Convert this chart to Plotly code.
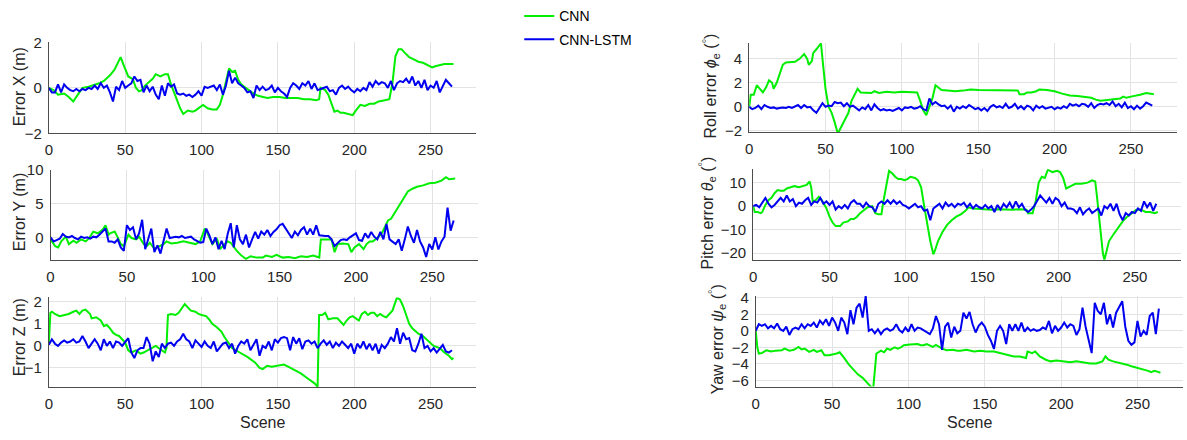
import plotly.graph_objects as go

# ---------------- data ----------------
SCENE_STEP = 2  # CNN-LSTM values are read every 2 scenes (0..264)

# CNN-LSTM (blue) errors
LSTM_X = [0.0,-0.2,-0.2,0.15,-0.2,0.15,0.0,-0.1,-0.15,-0.05,
          -0.15,-0.05,-0.1,0.0,-0.05,0.1,-0.05,0.2,0.0,0.1,
          -0.2,-0.6,0.05,-0.1,0.3,0.0,0.1,0.2,0.5,0.3,
          0.35,-0.2,0.1,-0.15,0.05,-0.3,-0.5,0.1,-0.35,0.2,
          0.05,0.15,-0.25,-0.3,-0.25,-0.35,-0.3,-0.4,-0.3,-0.15,
          -0.35,0.05,0.0,0.05,0.1,-0.1,0.15,-0.3,0.1,0.75,
          0.2,0.45,0.2,0.1,0.0,-0.2,-0.15,-0.45,0.1,-0.1,
          0.05,-0.1,-0.05,0.1,-0.2,0.0,-0.15,-0.25,-0.4,0.0,
          0.2,0.1,-0.05,0.2,0.1,0.3,-0.05,0.2,-0.1,-0.05,
          0.0,0.05,-0.15,-0.1,-0.3,0.0,0.1,-0.05,0.05,-0.1,
          -0.2,-0.05,-0.15,0.0,-0.1,0.25,0.05,0.3,0.15,0.25,
          0.2,0.0,0.3,-0.1,0.2,0.3,0.25,0.4,0.2,0.5,
          0.1,0.3,0.0,0.35,-0.1,0.1,0.0,0.3,-0.2,0.1,
          0.35,0.2,0.05]
LSTM_Y = [0.0,-0.6,-0.4,-0.2,0.5,0.1,0.0,0.2,-0.1,-0.3,
          0.1,-0.1,0.0,-0.2,0.1,0.0,0.4,0.85,1.3,-0.6,
          -0.6,-0.8,-0.3,-1.5,-2.0,1.8,1.1,1.5,-0.3,0.6,
          2.6,-1.75,-0.2,1.3,-2.2,-1.2,-2.4,-0.5,1.3,-0.1,
          0.0,0.1,0.0,0.2,-0.1,0.0,0.1,-0.3,-0.5,-0.8,
          -0.7,1.3,0.3,-1.0,0.0,-1.75,-0.5,-1.75,0.5,2.1,
          -1.5,1.8,-0.3,-1.0,0.4,-1.5,-0.3,0.8,-0.2,0.85,
          0.4,1.1,0.2,0.8,1.2,1.8,2.0,1.3,0.4,-0.1,
          0.85,0.3,1.1,1.5,0.4,1.3,0.4,1.8,0.3,0.2,
          0.2,0.2,-0.3,-1.3,-0.9,-0.4,-0.3,-0.4,0.0,0.3,
          0.6,-0.4,-0.5,0.6,-0.1,0.8,0.1,-0.3,0.8,-0.3,
          2.0,-0.3,-0.6,-1.0,-0.3,-2.0,-0.3,1.6,0.2,-0.8,
          1.1,-0.6,-1.5,-2.9,-1.0,-1.8,0.0,-1.8,-0.6,0.1,
          4.4,1.0,2.5]
LSTM_Z = [0.05,0.3,0.1,0.0,0.15,0.25,0.15,0.2,0.3,0.15,
          0.2,0.45,0.2,-0.1,0.1,0.3,0.1,-0.2,0.3,0.0,
          0.2,-0.1,0.2,0.15,0.0,0.2,0.35,-0.3,-0.55,-0.2,
          -0.1,-0.1,0.4,0.1,-0.7,-0.25,-0.5,0.1,-0.1,0.1,
          0.15,0.0,0.2,0.3,0.55,0.3,0.2,-0.1,0.25,0.1,
          -0.05,0.2,0.0,-0.1,0.2,-0.25,-0.1,0.1,0.15,-0.1,
          0.1,-0.35,0.0,0.2,0.1,0.3,-0.2,0.05,0.3,-0.45,
          0.0,-0.1,0.2,-0.2,0.3,0.15,0.35,0.4,0.35,-0.2,
          0.4,0.1,0.35,-0.15,0.2,0.25,0.1,0.2,-0.1,0.1,
          0.25,0.05,0.2,-0.1,0.15,0.0,0.2,0.05,-0.1,0.1,
          -0.35,0.1,-0.1,0.2,-0.15,0.1,-0.2,0.1,-0.35,0.05,
          -0.1,0.1,0.4,0.2,0.8,0.1,0.6,0.3,0.35,-0.2,
          -0.25,0.1,0.55,-0.1,0.0,-0.25,-0.1,-0.3,-0.1,0.05,
          -0.25,-0.3,-0.2]
LSTM_ROLL = [0.0,-0.2,-0.1,0.1,-0.2,0.15,0.0,-0.1,-0.05,-0.15,
             -0.1,-0.05,-0.1,0.0,-0.1,0.05,0.15,-0.1,0.15,-0.05,
             0.0,-0.3,-0.5,-0.1,0.3,0.0,0.1,0.05,0.4,0.3,
             0.35,0.05,0.3,0.0,0.1,-0.1,-0.3,-0.05,-0.2,0.15,
             -0.3,0.2,-0.1,-0.3,-0.2,-0.3,-0.25,-0.35,-0.2,-0.1,
             -0.3,-0.05,-0.1,0.0,-0.15,-0.1,0.05,-0.2,-0.3,0.7,
             0.2,0.4,0.2,0.05,0.1,-0.15,0.1,-0.4,0.0,-0.15,
             0.05,-0.1,0.15,-0.05,-0.2,-0.1,-0.3,-0.1,-0.35,0.0,
             0.15,-0.05,0.05,-0.1,0.25,-0.1,0.0,0.25,-0.15,0.05,
             -0.2,0.1,0.0,-0.3,0.1,-0.1,0.05,-0.15,-0.05,0.0,
             -0.2,-0.05,-0.15,0.05,-0.1,0.25,0.1,0.2,0.05,0.25,
             0.2,0.0,0.3,-0.1,0.15,0.25,0.2,0.3,0.15,0.45,
             0.05,0.25,-0.05,0.35,-0.1,0.05,-0.2,0.1,-0.15,0.05,
             0.35,0.2,0.1]
LSTM_PITCH = [0.0,0.5,-0.5,1.5,3.5,1.0,-0.5,0.5,2.0,3.5,
              2.0,4.5,2.0,3.0,0.0,1.5,1.0,2.5,3.5,0.5,
              2.0,1.5,3.5,1.0,2.0,0.5,2.0,-1.5,0.0,-1.0,
              0.5,-1.0,1.5,2.5,1.0,1.0,-0.5,1.5,0.0,-0.5,
              -2.5,1.0,2.0,1.0,2.5,1.0,2.5,1.0,2.0,0.5,
              0.0,-1.0,0.0,1.0,-0.5,0.0,-2.0,-1.5,-6.0,-1.0,
              0.0,1.0,-1.0,1.5,0.0,1.0,-0.5,1.0,0.5,1.5,
              -0.5,1.0,-1.0,0.5,-0.5,-1.0,0.5,-1.0,0.0,-2.5,
              0.5,-1.5,1.0,-0.5,1.5,-1.0,2.0,-0.5,1.0,-1.5,
              -2.5,-1.5,0.0,2.0,4.5,3.0,1.5,3.5,1.0,3.5,
              2.5,0.0,1.5,-1.0,-1.0,-1.5,-3.0,-0.5,-3.5,-2.0,
              -1.0,-3.0,-2.0,-1.0,-4.0,0.0,-1.0,1.0,-2.0,1.0,
              -3.5,-6.0,-3.0,-4.0,-2.5,-3.0,-1.0,-2.0,2.0,-0.5,
              1.5,-2.0,1.0]
LSTM_YAW = [0.0,0.8,0.6,0.8,0.3,0.6,0.3,0.9,0.2,0.0,
            0.5,-0.5,0.2,0.4,0.2,0.8,0.3,0.8,0.6,1.0,
            0.4,1.25,0.8,1.4,0.6,1.6,1.0,0.0,1.6,1.0,
            -0.4,2.5,0.8,2.8,3.3,1.6,4.2,0.0,0.2,-0.3,
            0.2,-0.4,0.1,0.3,0.0,0.2,0.8,0.1,-0.2,0.4,
            -0.1,0.8,0.0,0.4,0.3,0.1,-0.2,-0.4,0.3,1.8,
            0.8,-2.3,0.5,1.0,-0.8,0.5,-0.3,0.0,2.2,1.5,
            2.3,0.8,-0.2,0.6,1.0,0.5,-0.5,-1.2,-2.2,0.0,
            0.6,0.0,-1.6,0.8,0.0,0.8,0.0,1.0,-0.1,0.4,
            0.0,0.2,0.0,0.1,0.4,0.2,1.2,-0.3,0.6,0.0,
            0.4,1.0,0.4,0.8,0.6,-0.5,0.2,2.8,0.5,-1.2,
            -2.7,3.4,2.4,2.0,3.4,0.8,2.0,0.4,2.2,2.9,
            3.6,0.5,-1.2,-1.7,-1.4,1.2,-0.7,0.0,-0.5,1.8,
            2.2,-0.4,2.7]

# CNN (green) errors, read at the scenes where the curve changes
CNN_X_SCENE = [0,3,6,10,13,16,19,22,26,29,33,36,40,43,45,47,49,52,55,57,59,61,63,66,68,70,73,76,78,80,
               83,86,88,91,94,96,99,101,104,107,110,112,114,116,118,120,122,124,126,128,131,134,137,140,
               143,147,151,155,159,163,167,171,175,177,178,181,183,185,187,189,191,193,196,199,201,204,
               207,210,213,216,220,223,225,227,229,231,233,236,239,242,245,248,251,253,256,259,262,265]
CNN_X = [0.0,-0.1,-0.3,-0.25,-0.4,-0.6,-0.3,0.0,0.05,0.1,0.2,0.3,0.55,0.8,1.1,1.35,1.0,0.5,0.38,0.0,
         -0.15,-0.1,0.1,0.3,0.4,0.6,0.5,0.6,0.6,0.15,-0.4,-0.9,-1.15,-1.0,-1.05,-1.0,-0.85,-0.75,-0.9,
         -0.95,-0.95,-0.75,-0.3,0.3,0.85,0.7,0.75,0.35,0.15,0.05,-0.1,-0.25,-0.35,-0.4,-0.45,-0.4,-0.4,
         -0.45,-0.45,-0.45,-0.5,-0.5,-0.55,-0.5,0.0,-0.1,-0.3,-0.7,-1.05,-1.0,-1.1,-1.1,-1.15,-1.2,-1.0,
         -0.75,-0.8,-0.7,-0.7,-0.6,-0.55,-0.5,0.2,1.4,1.7,1.7,1.55,1.35,1.25,1.15,1.1,1.0,0.9,0.95,1.0,
         1.05,1.05,1.05]

CNN_Y_SCENE = [0,3,5,7,10,12,15,17,20,23,25,28,31,34,36,38,39,42,44,46,48,51,53,56,58,61,63,65,68,70,
               74,76,79,83,87,91,95,98,101,102,104,106,109,111,114,116,118,122,125,128,131,135,139,141,
               145,148,152,156,160,164,168,172,175,176,177,181,184,186,188,191,195,197,199,202,205,207,
               209,211,214,217,219,221,223,226,230,234,237,240,244,248,252,256,259,261,265]
CNN_Y = [-0.3,-1.3,-1.5,-0.6,0.1,-1.0,-0.5,-0.8,-0.3,-0.6,-0.2,0.85,0.6,1.1,1.8,0.4,0.6,0.85,0.0,
         -1.0,-1.3,0.4,-0.1,-0.3,0.1,-1.0,-1.3,-0.8,-1.7,-1.5,-1.0,-0.6,-0.9,-0.8,-0.6,-0.8,-1.0,-0.6,
         1.3,1.0,0.0,-1.0,-0.2,-1.75,-1.0,-0.6,-0.8,-2.0,-2.7,-3.2,-2.8,-3.0,-3.0,-2.7,-2.9,-2.6,-3.0,
         -2.9,-3.1,-2.8,-2.9,-2.7,-2.9,-3.0,-0.3,-0.3,-0.3,-2.2,-1.0,-0.9,-1.0,-2.2,-1.5,-1.0,-1.75,
         -1.0,-0.6,-0.6,-0.1,0.6,1.6,2.5,2.75,3.9,5.4,6.8,7.2,7.5,7.7,8.0,8.1,8.4,8.9,8.6,8.7]

CNN_Z_SCENE = [0,1,2,4,7,10,13,16,18,20,22,24,27,28,31,34,36,38,40,42,44,46,48,50,52,54,57,60,62,65,
               68,70,73,76,77,78,80,83,85,87,89,91,93,96,98,100,103,105,107,110,113,115,117,120,125,130,
               135,138,140,143,146,150,154,157,160,165,170,174,176,177,179,181,183,186,189,191,193,195,
               197,199,201,203,205,207,209,211,213,215,217,219,221,223,225,227,228,230,232,234,236,238,
               240,242,245,248,250,252,256,259,262,264,265]
CNN_Z = [0.1,1.5,1.55,1.45,1.35,1.4,1.45,1.55,1.6,1.45,1.6,1.65,1.45,1.25,1.3,1.15,0.9,0.95,0.8,0.6,
         0.5,0.45,0.3,0.15,-0.2,-0.3,-0.2,-0.35,-0.3,-0.2,-0.1,0.0,-0.15,-0.3,-0.1,1.4,1.45,1.4,1.5,
         1.7,1.9,1.75,1.6,1.55,1.45,1.4,1.35,1.2,1.0,0.85,0.65,0.4,0.2,-0.1,-0.3,-0.5,-0.75,-1.0,-1.05,
         -0.9,-0.95,-0.9,-0.85,-0.95,-1.05,-1.25,-1.5,-1.7,-1.85,1.4,1.4,1.5,1.2,1.25,1.25,1.1,0.95,
         1.15,1.3,1.35,1.25,1.15,1.45,1.55,1.4,1.5,1.5,1.35,1.45,1.35,1.3,1.45,1.6,2.0,2.2,2.1,1.8,1.4,
         1.0,0.8,0.65,0.55,0.45,0.25,0.1,0.0,-0.1,-0.3,-0.45,-0.6,-0.55]

CNN_ROLL_SCENE = [0,1,3,5,7,9,11,13,15,16,18,20,22,24,27,30,33,35,36,38,39,41,42,44,46,47,48,50,52,54,
                  56,58,59,61,63,65,67,69,71,73,76,80,82,85,90,95,100,105,110,112,114,116,118,120,122,
                  124,126,130,135,140,145,150,155,160,165,170,176,177,180,182,185,188,190,195,200,205,
                  210,215,220,224,227,230,233,236,240,243,245,247,250,253,256,260,262,265]
CNN_ROLL = [0.0,1.0,1.0,1.8,1.5,1.2,1.6,2.2,2.0,1.5,2.0,2.8,3.5,3.7,3.7,3.75,4.0,4.3,4.4,4.0,3.5,3.8,
            4.5,4.8,5.2,5.3,4.0,1.5,0.0,-0.5,-1.3,-2.2,-2.0,-1.5,-1.0,-0.5,0.5,1.0,1.5,1.2,1.2,1.15,
            1.3,1.15,1.25,1.2,1.25,1.2,1.2,0.5,-0.3,-0.7,0.0,0.7,1.8,1.6,1.4,1.35,1.3,1.35,1.45,1.4,
            1.4,1.4,1.35,1.35,1.35,1.05,1.05,1.2,1.2,1.3,1.45,1.4,1.3,1.1,0.95,0.9,0.85,0.75,0.6,0.5,
            0.55,0.6,0.7,0.7,0.85,0.75,0.85,0.9,1.0,1.15,1.1,1.05]

CNN_PITCH_SCENE = [0,1,3,5,6,8,10,12,14,16,18,20,22,24,27,30,33,35,37,38,39,41,43,45,48,50,52,54,57,59,
                   62,64,66,68,70,72,75,78,80,82,84,85,87,88,89,91,93,95,97,99,101,103,106,108,110,112,
                   114,116,118,119,121,124,127,130,133,136,139,141,144,148,152,156,160,165,170,175,179,
                   180,183,185,187,189,191,193,196,199,201,203,205,208,211,215,219,222,224,225,227,229,
                   230,231,233,236,239,242,245,248,251,254,257,260,263,265]
CNN_PITCH = [0.0,-2.5,-2.5,-3.0,-2.5,0.5,2.5,3.5,5.5,6.8,6.5,6.5,7.5,8.0,8.5,8.0,8.5,9.0,10.5,8.0,2.0,
             2.5,4.0,2.5,-1.0,-4.5,-7.0,-8.5,-8.5,-7.0,-6.5,-5.5,-5.5,-4.5,-3.0,-2.0,-0.5,0.0,-3.0,-3.5,
             -3.5,1.0,8.0,12.5,15.0,14.0,12.5,11.5,11.5,11.0,11.5,12.5,12.0,11.0,8.0,0.0,-8.0,-15.0,-20.5,
             -19.0,-15.0,-11.0,-8.0,-6.0,-4.5,-3.5,-2.0,-0.5,-1.0,-1.2,-1.5,-1.5,-1.3,-1.5,-1.5,-1.3,-1.5,
             -3.0,-3.0,2.0,10.0,12.5,12.0,15.5,14.5,15.0,14.5,12.0,7.5,8.5,9.5,9.5,10.0,11.0,10.5,5.0,
             -8.0,-20.0,-23.0,-20.0,-15.0,-12.0,-9.0,-6.5,-4.5,-3.0,-1.5,-1.5,-2.5,-2.5,-3.0,-2.5]

CNN_YAW_SCENE = [0,1,2,4,7,10,13,17,19,22,25,28,30,32,35,38,40,43,45,48,53,55,58,61,64,67,70,72,74,76,
                 77,79,82,84,86,88,91,93,95,97,101,106,108,110,112,116,118,122,125,129,132,134,138,143,
                 147,151,156,160,164,169,173,177,178,181,183,186,190,193,197,202,206,210,214,219,223,
                 227,229,231,234,239,243,246,249,254,257,259,261,264,265]
CNN_YAW = [0.0,-2.0,-2.75,-2.7,-2.35,-2.5,-2.4,-2.35,-2.15,-2.4,-2.3,-1.95,-2.25,-2.15,-2.55,-2.3,-2.55,
           -2.35,-2.95,-2.95,-2.75,-2.6,-3.3,-4.1,-4.7,-5.3,-5.7,-6.1,-6.6,-6.9,-6.8,-2.75,-2.4,-2.6,
           -2.15,-2.3,-2.0,-2.15,-2.0,-1.75,-1.65,-1.6,-1.75,-1.75,-1.6,-1.95,-1.7,-2.15,-2.35,-2.3,-2.4,
           -2.4,-2.3,-2.5,-2.4,-2.5,-2.5,-2.7,-2.9,-3.1,-3.1,-3.3,-2.5,-2.7,-2.5,-3.1,-3.5,-3.7,-3.6,
           -3.7,-3.8,-3.7,-3.8,-3.95,-3.95,-3.7,-3.1,-3.5,-3.7,-3.9,-4.1,-4.3,-4.45,-4.65,-4.85,-5.0,
           -4.85,-5.0,-5.1]

X_TICKS = [0, 50, 100, 150, 200, 250]
X_LIMITS = [0, 280]

# ---------------- layout helpers ----------------
W, H = 1187, 440
FONT = "Liberation Sans, Arial, sans-serif"
TXT = "#262626"
GREEN = "#00ee00"
BLUE = "#0000f0"


def xdom(a, b):
    return [a / W, b / W]


def ydom(top, bottom):
    return [1 - bottom / H, 1 - top / H]


panels = [
    dict(cnn_s=CNN_X_SCENE, cnn=CNN_X, lstm=LSTM_X, xd=(45, 474), yd=(34.7, 129.3),
         yr=[-2, 2], yt=[-2, 0, 2], title="Error X (m)", tx=15.5, ty=81),
    dict(cnn_s=CNN_Y_SCENE, cnn=CNN_Y, lstm=LSTM_Y, xd=(46.7, 475.7), yd=(167.3, 260.7),
         yr=[-3.3, 10], yt=[0, 5, 10], title="Error Y (m)", tx=15.5, ty=211),
    dict(cnn_s=CNN_Z_SCENE, cnn=CNN_Z, lstm=LSTM_Z, xd=(45, 474), yd=(300, 393.3),
         yr=[-1.87, 2.2], yt=[-1, 0, 1, 2], title="Error Z (m)", tx=15.5, ty=341),
    dict(cnn_s=CNN_ROLL_SCENE, cnn=CNN_ROLL, lstm=LSTM_ROLL, xd=(747.7, 1176.7), yd=(35, 128.3),
         yr=[-2.13, 5.35], yt=[-2, 0, 2, 4],
         title="Roll error <i>ϕ</i><sub>e</sub> (<sup>°</sup>)", tx=709, ty=80),
    dict(cnn_s=CNN_PITCH_SCENE, cnn=CNN_PITCH, lstm=LSTM_PITCH, xd=(751.7, 1180.7), yd=(166.7, 260.7),
         yr=[-22.8, 15.7], yt=[-20, -10, 0, 10],
         title="Pitch error <i>θ</i><sub>e</sub> (<sup>°</sup>)", tx=705, ty=212),
    dict(cnn_s=CNN_YAW_SCENE, cnn=CNN_YAW, lstm=LSTM_YAW, xd=(754.3, 1183.3), yd=(298.3, 392.7),
         yr=[-6.75, 4.25], yt=[-6, -4, -2, 0, 2, 4],
         title="Yaw error <i>ψ</i><sub>e</sub> (<sup>°</sup>)", tx=715, ty=344),
]

fig = go.Figure()
layout = dict(
    width=W, height=H,
    margin=dict(l=0, r=0, t=0, b=0),
    paper_bgcolor="white", plot_bgcolor="white",
    font=dict(family=FONT, size=15, color=TXT),
    showlegend=True,
    legend=dict(x=517 / W, y=1 + 9 / H, xanchor="left", yanchor="top",
                bgcolor="rgba(0,0,0,0)", font=dict(size=14, color="#000000"),
                traceorder="grouped", tracegroupgap=2),
)
annotations = []

for i, p in enumerate(panels, start=1):
    xa = "x" if i == 1 else f"x{i}"
    ya = "y" if i == 1 else f"y{i}"
    lstm_scene = list(range(0, SCENE_STEP * len(p["lstm"]), SCENE_STEP))
    fig.add_trace(go.Scatter(x=p["cnn_s"], y=p["cnn"], mode="lines", name="CNN",
                             line=dict(color=GREEN, width=2), xaxis=xa, yaxis=ya,
                             legendgroup="cnn", showlegend=(i == 1)))
    fig.add_trace(go.Scatter(x=lstm_scene, y=p["lstm"], mode="lines", name="CNN-LSTM",
                             line=dict(color=BLUE, width=2), xaxis=xa, yaxis=ya,
                             legendgroup="lstm", showlegend=(i == 1)))
    axis_common = dict(showline=True, linecolor="#4d4d4d", linewidth=1, mirror=False,
                       showgrid=True, gridcolor="#e3e3e3", gridwidth=1, zeroline=False,
                       ticks="outside", ticklen=3, tickcolor="rgba(0,0,0,0)",
                       tickfont=dict(size=15, color=TXT, family=FONT), fixedrange=True)
    layout["xaxis" if i == 1 else f"xaxis{i}"] = dict(
        domain=xdom(*p["xd"]), range=X_LIMITS, tickvals=X_TICKS, anchor=ya, **axis_common)
    layout["yaxis" if i == 1 else f"yaxis{i}"] = dict(
        domain=ydom(*p["yd"]), range=p["yr"], tickvals=p["yt"], anchor=xa, **axis_common)
    annotations.append(dict(text=p["title"], x=p["tx"] / W, y=1 - p["ty"] / H, xref="paper",
                            yref="paper", textangle=-90, showarrow=False, xanchor="center",
                            yanchor="middle", font=dict(size=16, color=TXT, family=FONT)))

for cx in (259.5, 968.8):
    annotations.append(dict(text="Scene", x=cx / W, y=1 - 430 / H, xref="paper", yref="paper",
                            showarrow=False, xanchor="center", yanchor="middle",
                            font=dict(size=16, color=TXT, family=FONT)))

layout["annotations"] = annotations
fig.update_layout(**layout)
fig.write_html("out.html")
